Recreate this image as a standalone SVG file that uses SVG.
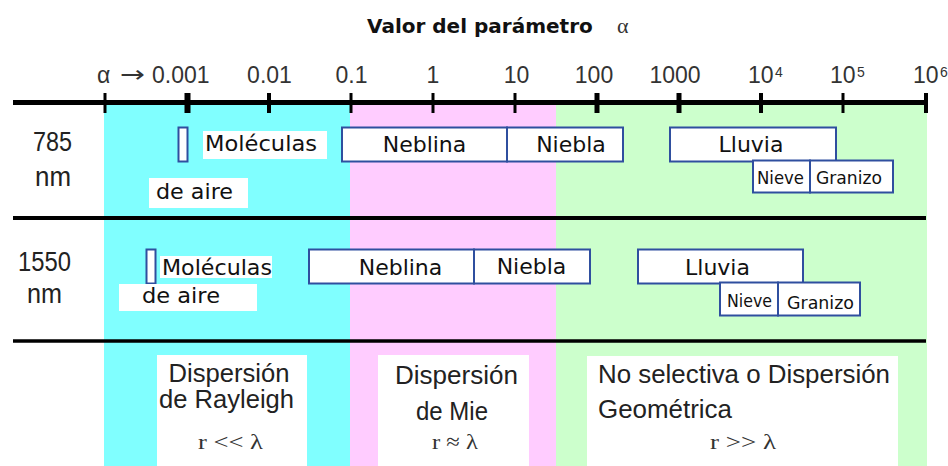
<svg xmlns="http://www.w3.org/2000/svg" width="948" height="466" viewBox="0 0 948 466">
<style>
.bg{stroke:none}
.box{fill:#fff;stroke:#2f4f9f;stroke-width:2}
.wbg{fill:#fff;stroke:none}
.lbl{font-family:"DejaVu Sans",Verdana,sans-serif;font-size:22px;fill:#111}
.sm{font-family:"DejaVu Sans",Verdana,sans-serif;font-size:17px;fill:#111}
.ax{font-family:"Liberation Sans",Arial,sans-serif;font-size:23px;fill:#333}
.sup{font-family:"Liberation Sans",Arial,sans-serif;font-size:14px;fill:#333}
.side{font-family:"Liberation Sans",Arial,sans-serif;font-size:27px;fill:#222}
.big{font-family:"Liberation Sans",Arial,sans-serif;font-size:25px;fill:#222}
.ser{font-family:"Liberation Serif","Times New Roman",serif;font-size:22px;fill:#333}
.title{font-family:"DejaVu Sans",Verdana,sans-serif;font-size:20px;font-weight:bold;fill:#111}
.m{text-anchor:middle}
.ln{stroke:#000;fill:none}
</style>

<!-- background regions -->
<g id="regions">
<rect class="bg" x="104" y="103" width="246" height="363" fill="#80ffff"/>
<rect class="bg" x="350" y="103" width="206" height="363" fill="#ffccff"/>
<rect class="bg" x="556" y="103" width="371" height="363" fill="#ccffcc"/>
</g>

<!-- title -->
<g id="title">
<text class="title" x="367" y="33">Valor del parámetro</text>
<text class="ser" x="617" y="33" font-size="23" fill="#555">α</text>
</g>

<!-- axis and separator lines -->
<g id="connectors">
<line class="ln" x1="13" y1="102.5" x2="927" y2="102.5" stroke-width="5"/>
<line class="ln" x1="105" y1="93" x2="105" y2="113" stroke-width="3"/>
<line class="ln" x1="187.5" y1="93" x2="187.5" y2="113" stroke-width="6"/>
<line class="ln" x1="269" y1="93" x2="269" y2="113" stroke-width="4"/>
<line class="ln" x1="351" y1="93" x2="351" y2="113" stroke-width="3"/>
<line class="ln" x1="433" y1="93" x2="433" y2="113" stroke-width="3"/>
<line class="ln" x1="515" y1="93" x2="515" y2="113" stroke-width="3"/>
<line class="ln" x1="597" y1="93" x2="597" y2="113" stroke-width="5"/>
<line class="ln" x1="679" y1="93" x2="679" y2="113" stroke-width="5"/>
<line class="ln" x1="761" y1="93" x2="761" y2="113" stroke-width="4"/>
<line class="ln" x1="843" y1="93" x2="843" y2="113" stroke-width="3"/>
<line class="ln" x1="926" y1="93" x2="926" y2="113" stroke-width="4"/>
<line class="ln" x1="13" y1="218" x2="926" y2="218" stroke-width="4"/>
<line class="ln" x1="13" y1="341" x2="926" y2="341" stroke-width="3.5"/>
</g>

<!-- axis labels -->
<g id="axis-labels">
<text class="ax" x="97" y="83">α</text>
<text class="ax" x="120" y="82" style="font-family:'DejaVu Sans',sans-serif" textLength="25" lengthAdjust="spacingAndGlyphs">→</text>
<text class="ax" x="152" y="83">0.001</text>
<text class="ax m" x="269.5" y="83">0.01</text>
<text class="ax m" x="351.5" y="83">0.1</text>
<text class="ax m" x="433" y="83">1</text>
<text class="ax m" x="516.5" y="83">10</text>
<text class="ax m" x="594" y="83">100</text>
<text class="ax m" x="675" y="83">1000</text>
<text class="ax" x="748" y="83">10</text><text class="sup" x="775" y="77">4</text>
<text class="ax" x="830" y="83">10</text><text class="sup" x="857" y="77">5</text>
<text class="ax" x="913" y="83">10</text><text class="sup" x="940" y="77">6</text>
</g>

<!-- row 785 nm -->
<g id="row785-label">
<text class="side m" x="52.5" y="151" textLength="39" lengthAdjust="spacingAndGlyphs">785</text>
<text class="side m" x="53" y="186" textLength="36" lengthAdjust="spacingAndGlyphs">nm</text>
</g>
<g id="r1-moleculas">
<rect class="box" x="178.5" y="127.5" width="9" height="34"/>
<rect class="wbg" x="203" y="131" width="124" height="28"/>
<text class="lbl" x="205" y="151" textLength="112" lengthAdjust="spacingAndGlyphs">Moléculas</text>
<rect class="wbg" x="149" y="178" width="99" height="30"/>
<text class="lbl" x="156" y="199" textLength="77" lengthAdjust="spacingAndGlyphs">de aire</text>
</g>
<g id="r1-neblina">
<rect class="box" x="342" y="127.5" width="165" height="34"/>
<text class="lbl m" x="424.5" y="152">Neblina</text>
</g>
<g id="r1-niebla">
<rect class="box" x="507" y="127.5" width="116" height="34"/>
<text class="lbl m" x="571" y="152">Niebla</text>
</g>
<g id="r1-lluvia">
<rect class="box" x="670" y="127.5" width="166" height="34"/>
<text class="lbl m" x="751" y="152">Lluvia</text>
</g>
<g id="r1-nieve">
<rect class="box" x="753" y="160.5" width="57" height="32"/>
<text class="sm m" x="780.5" y="184" textLength="47" lengthAdjust="spacingAndGlyphs">Nieve</text>
</g>
<g id="r1-granizo">
<rect class="box" x="810" y="160.5" width="83" height="32"/>
<text class="sm m" x="849" y="184" textLength="66" lengthAdjust="spacingAndGlyphs">Granizo</text>
</g>

<!-- row 1550 nm -->
<g id="row1550-label">
<text class="side m" x="44.5" y="271" textLength="53" lengthAdjust="spacingAndGlyphs">1550</text>
<text class="side m" x="44.5" y="303" textLength="35" lengthAdjust="spacingAndGlyphs">nm</text>
</g>
<g id="r2-moleculas">
<rect class="box" x="146.5" y="249.5" width="9" height="34"/>
<rect class="wbg" x="160" y="256" width="112" height="22"/>
<text class="lbl" x="162" y="275" textLength="110" lengthAdjust="spacingAndGlyphs">Moléculas</text>
<rect class="wbg" x="119" y="284" width="138" height="27"/>
<text class="lbl" x="142" y="303" textLength="78" lengthAdjust="spacingAndGlyphs">de aire</text>
</g>
<g id="r2-neblina">
<rect class="box" x="309" y="249.5" width="165" height="34"/>
<text class="lbl m" x="400.5" y="275">Neblina</text>
</g>
<g id="r2-niebla">
<rect class="box" x="474" y="249.5" width="116" height="34"/>
<text class="lbl m" x="531.5" y="274">Niebla</text>
</g>
<g id="r2-lluvia">
<rect class="box" x="638" y="249.5" width="165" height="34"/>
<text class="lbl m" x="717.5" y="275">Lluvia</text>
</g>
<g id="r2-nieve">
<rect class="box" x="720" y="282.5" width="58" height="33"/>
<text class="sm m" x="749.5" y="307" textLength="45" lengthAdjust="spacingAndGlyphs">Nieve</text>
</g>
<g id="r2-granizo">
<rect class="box" x="778" y="282.5" width="82" height="33"/>
<text class="sm m" x="820.5" y="309" textLength="67" lengthAdjust="spacingAndGlyphs">Granizo</text>
</g>

<!-- bottom regime boxes -->
<g id="rayleigh">
<rect class="wbg" x="157" y="355" width="150" height="111"/>
<text class="big m" x="229" y="382" textLength="121" lengthAdjust="spacingAndGlyphs">Dispersión</text>
<text class="big m" x="226.5" y="408" textLength="135" lengthAdjust="spacingAndGlyphs">de Rayleigh</text>
<text class="ser m" x="230.5" y="449" textLength="65" lengthAdjust="spacingAndGlyphs">r &lt;&lt; λ</text>
</g>
<g id="mie">
<rect class="wbg" x="378" y="355" width="151" height="111"/>
<text class="big m" x="456.5" y="384" textLength="123" lengthAdjust="spacingAndGlyphs">Dispersión</text>
<text class="big m" x="452" y="420" textLength="72" lengthAdjust="spacingAndGlyphs">de Mie</text>
<text class="ser m" x="455" y="449" textLength="46" lengthAdjust="spacingAndGlyphs">r ≈ λ</text>
</g>
<g id="geometrica">
<rect class="wbg" x="587" y="356" width="311" height="110"/>
<text class="big" x="598" y="383" textLength="292" lengthAdjust="spacingAndGlyphs">No selectiva o Dispersión</text>
<text class="big" x="598" y="418" textLength="134" lengthAdjust="spacingAndGlyphs">Geométrica</text>
<text class="ser m" x="743" y="449" textLength="66" lengthAdjust="spacingAndGlyphs">r &gt;&gt; λ</text>
</g>
</svg>
